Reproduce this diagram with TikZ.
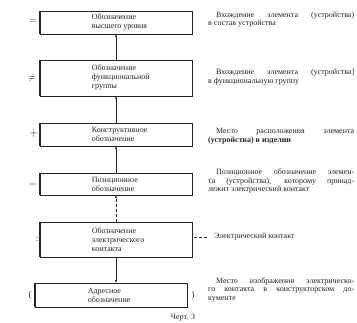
\documentclass[tikz,border=0pt]{standalone}
\usepackage{fontspec}
\setmainfont{Liberation Serif}
\usepackage{tikz}
\usetikzlibrary{arrows.meta, positioning}
\definecolor{inkgray}{RGB}{35, 35, 35}
\newcommand{\fullline}[1]{\makebox[146pt][s]{#1}}

\begin{document}
\begin{tikzpicture}[x=1pt, y=-1pt, >={Stealth[length=3pt, width=2.2pt]},
    blockbox/.style={draw=inkgray, line width=0.6pt, minimum width=152pt, inner sep=0pt},
    boxtext/.style={anchor=west, align=left, inner sep=0pt, text=inkgray,
        font=\fontsize{8}{9}\selectfont},
    notetext/.style={anchor=west, align=left, inner sep=0pt, text=inkgray,
        font=\fontsize{8}{8.8}\selectfont},
    signmark/.style={inner sep=0pt, text=inkgray, font=\small}]
    \useasboundingbox (0,0) rectangle (357,323);
    % boxes of the chain
    \node[blockbox, minimum height=23pt] (upper) at (116,22.5) {};
    \node[blockbox, minimum height=36pt] (func) at (116,78) {};
    \node[blockbox, minimum height=23pt] (constr) at (116,134.5) {};
    \node[blockbox, minimum height=22pt] (pos) at (116,184) {};
    \node[blockbox, minimum height=35pt] (contact) at (116,239.5) {};
    \node[blockbox, minimum height=24pt] (addr) at (111,295) {};
    \foreach \b in {upper, func, constr, pos, contact, addr}
        \draw[line width=1.1pt, inkgray] (\b.north west) -- (\b.south west);
    % texts in the boxes
    \node[boxtext] (upper-txt) at ([xshift=52pt]upper.west) {Обозначение\\высшего уровня};
    \node[boxtext] (func-txt) at ([xshift=52pt]func.west) {Обозначение\\функциональной\\группы};
    \node[boxtext] (constr-txt) at ([xshift=52pt]constr.west) {Конструктивное\\обозначение};
    \node[boxtext] (pos-txt) at ([xshift=52pt]pos.west) {Позиционное\\обозначение};
    \node[boxtext] (contact-txt) at ([xshift=52pt]contact.west) {Обозначение\\электрического\\контакта};
    \node[boxtext] (addr-txt) at ([xshift=53pt]addr.west) {Адресное\\обозначение};
    % connectors
    \draw[->, inkgray] (func.north) -- (upper.south);
    \draw[->, inkgray] (constr.north) -- (func.south);
    \draw[->, inkgray] (pos.north) -- (constr.south);
    \draw[->, inkgray, densely dashed] (contact.north) -- (pos.south);
    \draw[->, inkgray] (contact.south) -- (contact.south |- addr.north);
    % signs on the left
    \node[signmark] (sign-eq) at (33,22) {$=$};
    \node[signmark] (sign-neq) at (32,78) {$\neq$};
    \node[signmark, font=\large] (sign-plus) at (34,134) {$+$};
    \node[signmark, font=\large] (sign-minus) at (33,185) {$-$};
    \node[signmark] (sign-colon) at (37,239) {:};
    \node[signmark] (sign-lpar) at (30,295) {(};
    \node[signmark] (sign-rpar) at (193,295) {)};
    % notes on the right
    \node[notetext] (upper-note) at (208,19.5)
        {\fullline{\hspace*{8pt}Вхождение элемента (устройства)}\\в состав устройства};
    \node[notetext] (func-note) at (208,77)
        {\fullline{\hspace*{8pt}Вхождение элемента (устройства]}\\в функциональную группу};
    \node[notetext] (constr-note) at (208,136.5)
        {\fullline{\hspace*{8pt}Место расположения элемента}\\\textbf{(устройства) в изделии}};
    \node[notetext] (pos-note) at (208,181)
        {\fullline{\hspace*{8pt}Позиционное обозначение элемен-}\\
         \fullline{та (устройства), которому принад-}\\лежит электрический контакт};
    \node[notetext] (contact-note) at (214,237) {Электрический контакт};
    \draw[inkgray, dash pattern=on 3pt off 2pt, shorten <=2pt, shorten >=7pt]
        (contact.east |- contact-note.west) -- (contact-note.west);
    \node[notetext] (addr-note) at (208,290)
        {\fullline{\hspace*{8pt}Место изображения электрическо-}\\
         \fullline{го контакта в конструкторском до-}\\кументе};
    \node[notetext, anchor=center] (caption) at (183,318) {Черт. 3};
\end{tikzpicture}
\end{document}
